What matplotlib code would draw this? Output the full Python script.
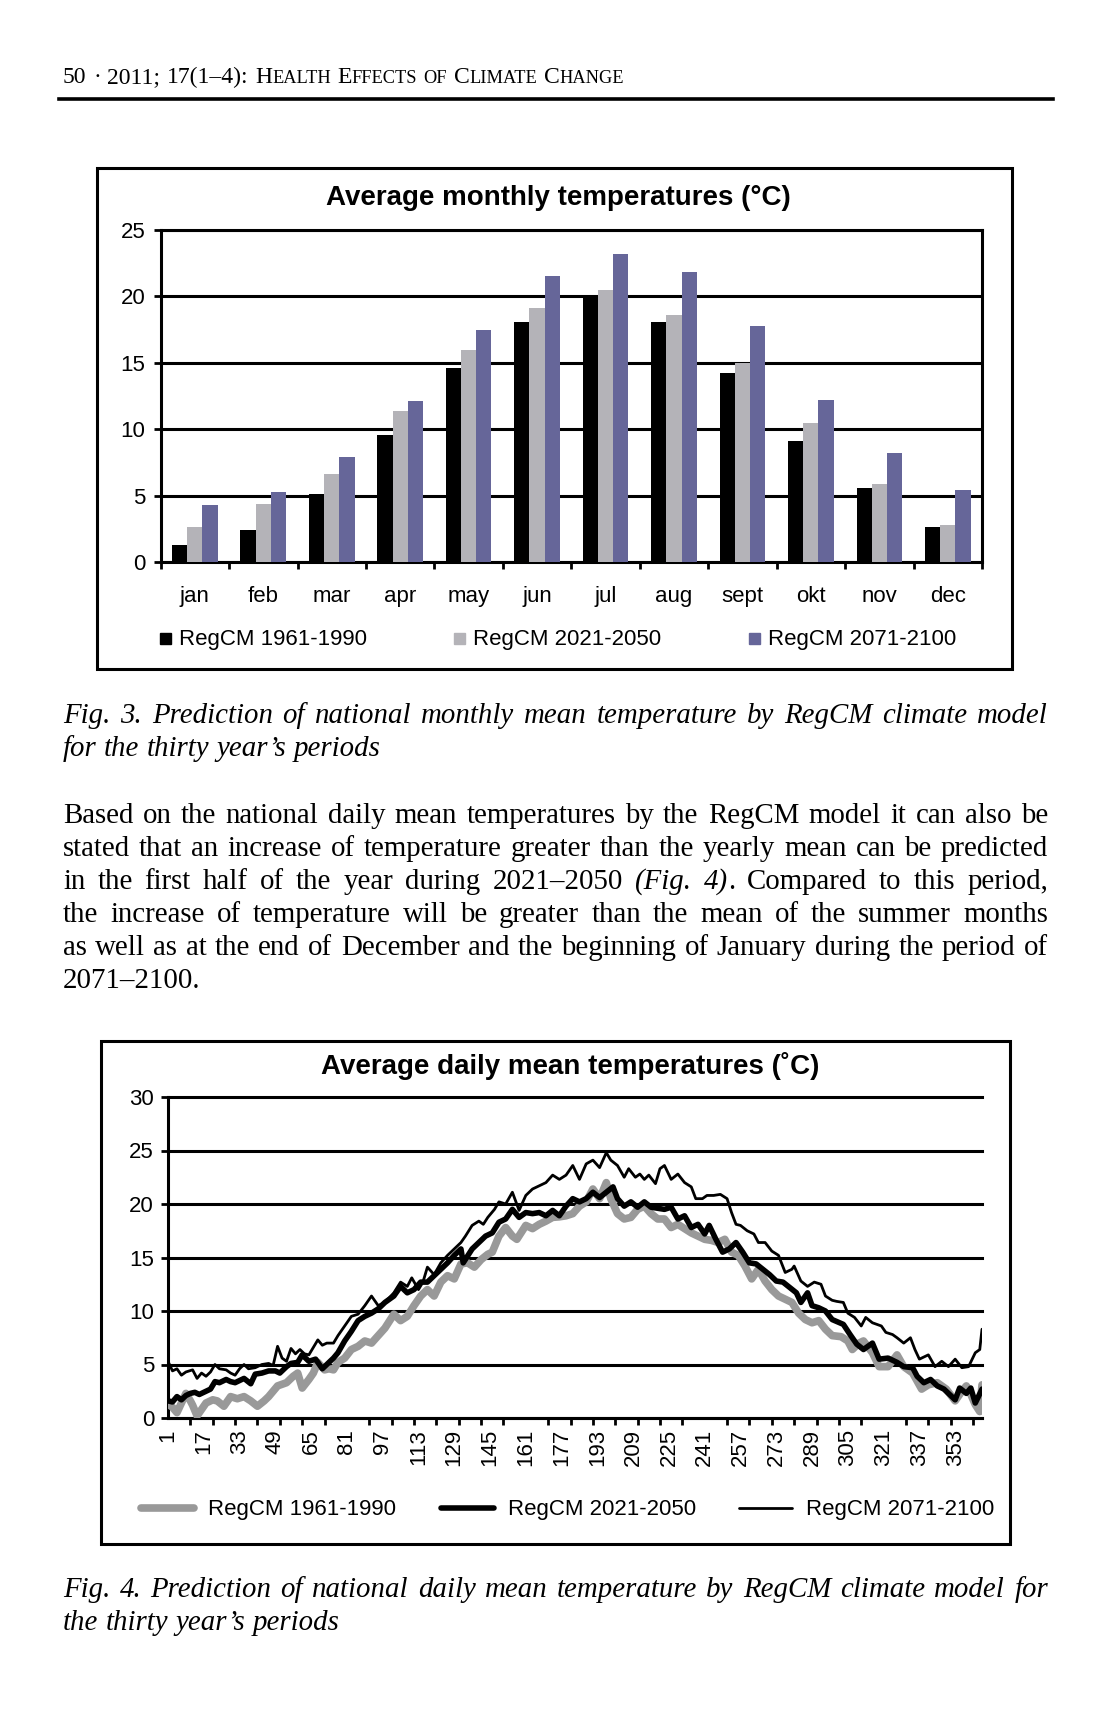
import numpy as np
import matplotlib
matplotlib.use("Agg")
import matplotlib.pyplot as plt
from matplotlib.font_manager import FontProperties
from matplotlib.lines import Line2D
from matplotlib.patches import Rectangle

W, H = 1112, 1725

# Fig. 3 - monthly means (deg C)
months = ["jan", "feb", "mar", "apr", "may", "jun", "jul", "aug", "sept", "okt", "nov", "dec"]
mean_1961 = [1.3, 2.4, 5.1, 9.6, 14.6, 18.1, 20.1, 18.1, 14.2, 9.1, 5.6, 2.6]
mean_2021 = [2.6, 4.4, 6.6, 11.4, 16.0, 19.1, 20.5, 18.6, 15.0, 10.5, 5.9, 2.8]
mean_2071 = [4.3, 5.3, 7.9, 12.1, 17.5, 21.5, 23.2, 21.8, 17.8, 12.2, 8.2, 5.4]

# Fig. 4 - daily means, (day, value)
daily_1961 = [(1, 1.3), (3, 1.0), (5, 0.5), (7, 1.4), (9, 2.3), (11, 1.6), (12, 1.2), (14, 0.2),
              (16, 0.8), (18, 1.4), (21, 1.7), (23, 1.6), (26, 1.1), (29, 2.0), (32, 1.8), (35, 2.0),
              (38, 1.6), (41, 1.1), (44, 1.6), (46, 2.0), (50, 3.0), (54, 3.3), (57, 3.9), (59, 4.2),
              (61, 2.8), (64, 3.6), (66, 4.2), (68, 5.2), (71, 4.5), (73, 4.6), (75, 4.5), (77, 5.2),
              (80, 5.6), (83, 6.4), (86, 6.7), (89, 7.2), (92, 7.0), (95, 7.7), (98, 8.4), (102, 9.7),
              (105, 9.1), (108, 9.5), (111, 10.5), (114, 11.4), (117, 12.0), (120, 11.4), (123, 12.7),
              (126, 13.3), (129, 13.0), (132, 14.4), (135, 14.5), (138, 14.1), (141, 14.8), (144, 15.3),
              (146, 15.5), (149, 17.0), (152, 17.8), (155, 17.0), (157, 16.7), (161, 18.0), (164, 17.7),
              (167, 18.1), (170, 18.4), (173, 18.75), (176, 18.8), (179, 18.9), (182, 19.1), (185, 19.8),
              (188, 20.2), (191, 21.4), (194, 20.5), (197, 22.0), (199, 20.5), (202, 19.1), (205, 18.6),
              (208, 18.75), (211, 19.5), (214, 19.8), (217, 19.1), (220, 18.6), (223, 18.6), (226, 17.8),
              (229, 18.1), (232, 17.7), (235, 17.3), (238, 17.0), (241, 16.7), (244, 16.6), (247, 16.4),
              (250, 16.7), (253, 15.5), (256, 15.2), (259, 14.2), (262, 13.0), (265, 13.9), (268, 12.8),
              (271, 12.0), (274, 11.4), (277, 11.1), (280, 10.8), (283, 9.8), (286, 9.2), (289, 8.9),
              (292, 9.1), (295, 8.3), (298, 7.7), (302, 7.6), (305, 7.2), (307, 6.4), (310, 7.0),
              (312, 7.2), (316, 6.1), (319, 4.8), (323, 4.8), (327, 5.9), (330, 4.8), (334, 4.2),
              (338, 2.7), (341, 3.1), (345, 3.3), (349, 2.7), (353, 1.6), (356, 2.5), (358, 3.0),
              (360, 2.2), (362, 1.25), (364, 0.6), (365, 3.1)]

daily_2021 = [(1, 1.6), (3, 1.5), (5, 2.0), (7, 1.7), (9, 2.1), (11, 2.3), (13, 2.4), (15, 2.2),
              (18, 2.5), (20, 2.7), (22, 3.4), (24, 3.3), (27, 3.6), (29, 3.4), (31, 3.3), (33, 3.5),
              (35, 3.7), (38, 3.2), (40, 4.1), (43, 4.2), (46, 4.4), (49, 4.4), (51, 4.2), (54, 4.8),
              (56, 5.1), (59, 5.2), (61, 5.9), (64, 5.3), (67, 5.5), (70, 4.6), (72, 5.0), (75, 5.6),
              (77, 6.1), (80, 7.2), (83, 8.1), (86, 9.1), (89, 9.5), (92, 9.8), (95, 10.2), (98, 10.8),
              (102, 11.4), (105, 12.3), (108, 11.7), (111, 12.0), (114, 12.7), (117, 12.7), (120, 13.3),
              (123, 13.9), (126, 14.5), (129, 15.2), (132, 15.8), (133, 14.5), (137, 15.8), (140, 16.4),
              (143, 17.0), (146, 17.3), (149, 18.3), (152, 18.6), (155, 19.5), (158, 18.75), (161, 19.2),
              (164, 19.1), (167, 19.2), (170, 18.9), (173, 19.4), (176, 18.9), (179, 19.8), (182, 20.5),
              (185, 20.2), (188, 20.5), (191, 21.1), (194, 20.6), (197, 21.1), (200, 21.6), (202, 20.5),
              (205, 19.8), (208, 20.2), (211, 19.7), (214, 20.2), (217, 19.7), (220, 19.6), (223, 19.5),
              (226, 19.7), (229, 18.6), (232, 18.9), (235, 17.8), (238, 18.1), (241, 17.2), (243, 18.0),
              (246, 16.7), (249, 15.5), (252, 15.8), (255, 16.4), (258, 15.5), (261, 14.5), (264, 14.4),
              (267, 13.9), (270, 13.4), (273, 12.8), (276, 12.7), (279, 12.2), (282, 11.7), (284, 10.8),
              (287, 11.7), (289, 10.5), (292, 10.3), (295, 10.0), (298, 9.2), (303, 8.75), (306, 7.8),
              (309, 6.9), (312, 6.4), (316, 7.0), (319, 5.5), (323, 5.6), (327, 5.2), (330, 4.8),
              (334, 4.7), (336, 3.9), (339, 3.3), (342, 3.6), (345, 3.0), (348, 2.7), (350, 2.3),
              (353, 1.7), (355, 2.8), (358, 2.3), (360, 2.8), (362, 1.4), (365, 2.7)]

daily_2071 = [(1, 5.3), (3, 4.4), (5, 4.6), (7, 4.0), (9, 4.3), (12, 4.5), (14, 3.7), (16, 4.2),
              (18, 3.9), (20, 4.3), (22, 5.0), (24, 4.6), (27, 4.5), (29, 4.2), (31, 4.0), (33, 4.6),
              (35, 5.0), (37, 4.6), (40, 4.7), (43, 5.0), (46, 5.1), (48, 4.9), (50, 6.7), (52, 5.6),
              (54, 5.3), (56, 6.5), (58, 6.0), (60, 6.4), (62, 6.0), (64, 5.9), (66, 6.6), (68, 7.3),
              (70, 6.8), (72, 7.0), (75, 7.0), (77, 7.7), (80, 8.6), (83, 9.5), (86, 9.7), (89, 10.5),
              (92, 11.4), (95, 10.5), (98, 10.8), (102, 11.7), (105, 12.7), (108, 12.3), (110, 13.1),
              (113, 12.0), (115, 12.7), (117, 14.1), (120, 13.4), (123, 14.5), (126, 15.2), (129, 15.8),
              (132, 16.4), (134, 17.0), (137, 18.0), (140, 18.4), (142, 18.1), (144, 18.75), (147, 19.5),
              (149, 20.2), (152, 20.0), (155, 21.1), (158, 19.4), (161, 20.8), (164, 21.4), (167, 21.7),
              (170, 22.0), (173, 22.7), (176, 22.3), (179, 22.7), (182, 23.6), (185, 22.3), (188, 23.75),
              (191, 24.1), (194, 23.4), (197, 24.8), (199, 24.1), (202, 23.6), (205, 22.5), (207, 23.3),
              (210, 22.5), (212, 22.8), (214, 22.3), (216, 22.7), (219, 21.9), (221, 23.3), (223, 23.6),
              (226, 22.3), (229, 22.8), (232, 22.0), (235, 21.6), (237, 20.5), (240, 20.5), (242, 20.8),
              (245, 20.8), (248, 20.9), (251, 20.5), (253, 19.2), (255, 18.1), (257, 18.0), (260, 17.5),
              (263, 17.2), (265, 16.4), (268, 16.4), (271, 15.6), (274, 15.2), (277, 13.6), (280, 13.9),
              (281, 14.2), (284, 12.8), (287, 12.3), (290, 12.7), (293, 12.5), (295, 11.4), (298, 11.0),
              (300, 10.9), (303, 10.8), (305, 9.8), (308, 9.4), (311, 8.6), (313, 9.4), (316, 8.9),
              (320, 8.6), (322, 8.0), (325, 7.8), (327, 7.5), (330, 7.0), (333, 7.5), (335, 6.4),
              (337, 5.5), (341, 5.9), (344, 4.8), (347, 5.3), (350, 4.8), (353, 5.5), (356, 4.7),
              (359, 4.8), (362, 6.1), (364, 6.4), (365, 8.3)]

day_labels = list(range(1, 366, 16))
series_names = ["RegCM 1961-1990", "RegCM 2021-2050", "RegCM 2071-2100"]

body_lines = [
    "Based on the national daily mean temperatures by the RegCM model it can also be",
    "stated that an increase of temperature greater than the yearly mean can be predicted",
    "in the first half of the year during 2021–2050 *(Fig.* *4)*. Compared to this period,",
    "the increase of temperature will be greater than the mean of the summer months",
    "as well as at the end of December and the beginning of January during the period of",
    "2071–2100.",
]
caption3 = ["Fig. 3. Prediction of national monthly mean temperature by RegCM climate model",
            "for the thirty year’s periods"]
caption4 = ["Fig. 4. Prediction of national daily mean temperature by RegCM climate model for",
            "the thirty year’s periods"]

GREY_BAR = "#b4b3b8"
BLUE_BAR = "#666699"
GREY_LINE = "#999999"

plt.rcParams["font.family"] = ["Liberation Sans", "DejaVu Sans"]

fig = plt.figure(figsize=(W / 100, H / 100), dpi=100)
fig.patch.set_facecolor("white")
renderer = fig.canvas.get_renderer()


def fx(x):
    return x / W


def fy(y):
    return 1 - y / H


def width_of(s, prop):
    w, h, d = renderer.get_text_width_height_descent(s, prop, ismath=False)
    return w


def parse(line, base, ital):
    tokens = []
    for word in line.split(" "):
        segs = []
        for i, part in enumerate(word.split("*")):
            if part:
                segs.append((part, ital if i % 2 else base))
        tokens.append(segs)
    return tokens


def put_tokens(tokens, x0, y, width=None):
    widths = [sum(width_of(s, p) for s, p in t) for t in tokens]
    p = tokens[0][0][1]
    gap = width_of("n n", p) - width_of("nn", p)
    if width is not None and len(tokens) > 1:
        gap = (width - sum(widths)) / (len(tokens) - 1)
    x = x0
    for t, tw in zip(tokens, widths):
        xx = x
        for s, p in t:
            fig.text(fx(xx), fy(y), s, fontproperties=p, ha="left", va="baseline")
            xx += width_of(s, p)
        x += tw + gap


def natural_width(line, base, ital):
    toks = parse(line, base, ital)
    sp = width_of("n n", base) - width_of("nn", base)
    return sum(width_of(s, p) for t in toks for s, p in t) + sp * (len(toks) - 1)


TEXT_L, TEXT_W = 63, 985

# pick the body size so that the justified lines only need a little stretching
probe = FontProperties(family="Liberation Serif", size=20)
probe_it = FontProperties(family="Liberation Serif", style="italic", size=20)
widest = max([natural_width(l, probe, probe_it) for l in body_lines[:-1]] +
             [natural_width(caption3[0], probe_it, probe_it),
              natural_width(caption4[0], probe_it, probe_it)])
body_size = min(23.0, 20 * TEXT_W / widest * 0.985)

serif = FontProperties(family="Liberation Serif", size=body_size)
serif_it = FontProperties(family="Liberation Serif", style="italic", size=body_size)
head_big = FontProperties(family="Liberation Serif", size=17)
head_small = FontProperties(family="Liberation Serif", size=13.2)
sans = FontProperties(family="Liberation Sans", size=16)
sans_bold = FontProperties(family="Liberation Sans", weight="bold", size=20)

# header
header = [[("50", head_big)], [("·", head_big)], [("2011;", head_big)], [("17(1–4):", head_big)],
          [("H", head_big), ("EALTH", head_small)], [("E", head_big), ("FFECTS", head_small)],
          [("OF", head_small)], [("C", head_big), ("LIMATE", head_small)],
          [("C", head_big), ("HANGE", head_small)]]
put_tokens(header, TEXT_L, 83, width=561)
fig.add_artist(Line2D([fx(59), fx(1053)], [fy(99), fy(99)], color="black", lw=2.6))

# frames round the two charts
for (x0, y0, x1, y1) in [(97, 168, 1012, 669), (101, 1041, 1010, 1544)]:
    fig.add_artist(Rectangle((fx(x0), fy(y1)), fx(x1) - fx(x0), fy(y0) - fy(y1),
                             fill=False, ec="black", lw=2.2))

# ---- Fig. 3 bar chart ----
ax1 = fig.add_axes([fx(160.6), fy(562), fx(982) - fx(160.6), fy(230) - fy(562)])
pos = np.arange(len(months))
bw = 1 / 4.5
bar_cols = ["black", GREY_BAR, BLUE_BAR]
for k, vals in enumerate([mean_1961, mean_2021, mean_2071]):
    ax1.bar(pos + (k - 1) * bw, vals, bw, color=bar_cols[k], zorder=3)
ax1.set_xlim(-0.5, 11.5)
ax1.set_ylim(0, 25)
ax1.set_yticks(np.arange(0, 26, 5))
ax1.grid(axis="y", color="black", lw=2.2)
ax1.set_axisbelow(True)
ax1.set_xticks(pos, months)
ax1.set_xticks(np.arange(-0.5, 12, 1), minor=True)
ax1.tick_params(axis="x", which="major", length=0, pad=17, labelsize=16)
ax1.tick_params(axis="x", which="minor", length=5, width=2)
ax1.tick_params(axis="y", length=5, width=2, pad=6, labelsize=16)
for s in ax1.spines.values():
    s.set_linewidth(2.2)
fig.text(fx(558), fy(198), "Average monthly temperatures (°C)", fontproperties=sans_bold,
         ha="center", va="center")

leg1_x = [160, 454, 749]
for k in range(3):
    fig.add_artist(Rectangle((fx(leg1_x[k]), fy(644)), fx(11), 11 / H, color=bar_cols[k]))
    fig.text(fx(leg1_x[k] + 19), fy(639), series_names[k], fontproperties=sans,
             ha="left", va="center")

# ---- Fig. 4 line chart ----
ax2 = fig.add_axes([fx(168), fy(1418), fx(982) - fx(168), fy(1097) - fy(1418)])
line_styles = [(GREY_LINE, 5.5), ("black", 4.0), ("black", 2.0)]
for data, (col, lw) in zip([daily_1961, daily_2021, daily_2071], line_styles):
    d, v = zip(*data)
    ax2.plot(d, v, color=col, lw=lw, solid_joinstyle="round", solid_capstyle="round", zorder=3)
ax2.set_xlim(1, 365)
ax2.set_ylim(0, 30)
ax2.set_yticks(np.arange(0, 31, 5))
ax2.grid(axis="y", color="black", lw=2.2)
for gl in ax2.get_ygridlines():
    gl.set_clip_on(False)
ax2.set_axisbelow(True)
ax2.spines["right"].set_visible(False)
ax2.spines["top"].set_visible(False)
for s in ["left", "bottom"]:
    ax2.spines[s].set_linewidth(2.2)
ax2.set_xticks(day_labels, [str(d) for d in day_labels], rotation=90)
ax2.set_xticks(np.arange(1, 366, 10), minor=True)
ax2.tick_params(axis="x", which="major", length=0, pad=8, labelsize=16)
ax2.tick_params(axis="x", which="minor", length=5, width=2)
ax2.tick_params(axis="y", length=5, width=2, pad=5, labelsize=16)
fig.text(fx(570), fy(1066), "Average daily mean temperatures (˚C)", fontproperties=sans_bold,
         ha="center", va="center")

leg2_x = [137, 437, 735]
for k in range(3):
    col, lw = line_styles[k]
    fig.add_artist(Line2D([fx(leg2_x[k] + 4), fx(leg2_x[k] + 57)], [fy(1508), fy(1508)],
                          color=col, lw=lw, solid_capstyle="round"))
    fig.text(fx(leg2_x[k] + 71), fy(1509), series_names[k], fontproperties=sans,
             ha="left", va="center")

# ---- text of the page ----
put_tokens(parse(caption3[0], serif_it, serif_it), TEXT_L, 723, width=TEXT_W)
put_tokens(parse(caption3[1], serif_it, serif_it), TEXT_L, 756)

for i, line in enumerate(body_lines):
    last = i == len(body_lines) - 1
    put_tokens(parse(line, serif, serif_it), TEXT_L, 823 + 33 * i, width=None if last else TEXT_W)

put_tokens(parse(caption4[0], serif_it, serif_it), TEXT_L, 1597, width=TEXT_W)
put_tokens(parse(caption4[1], serif_it, serif_it), TEXT_L, 1630)

fig.savefig("out.png", dpi=100, facecolor="white")
